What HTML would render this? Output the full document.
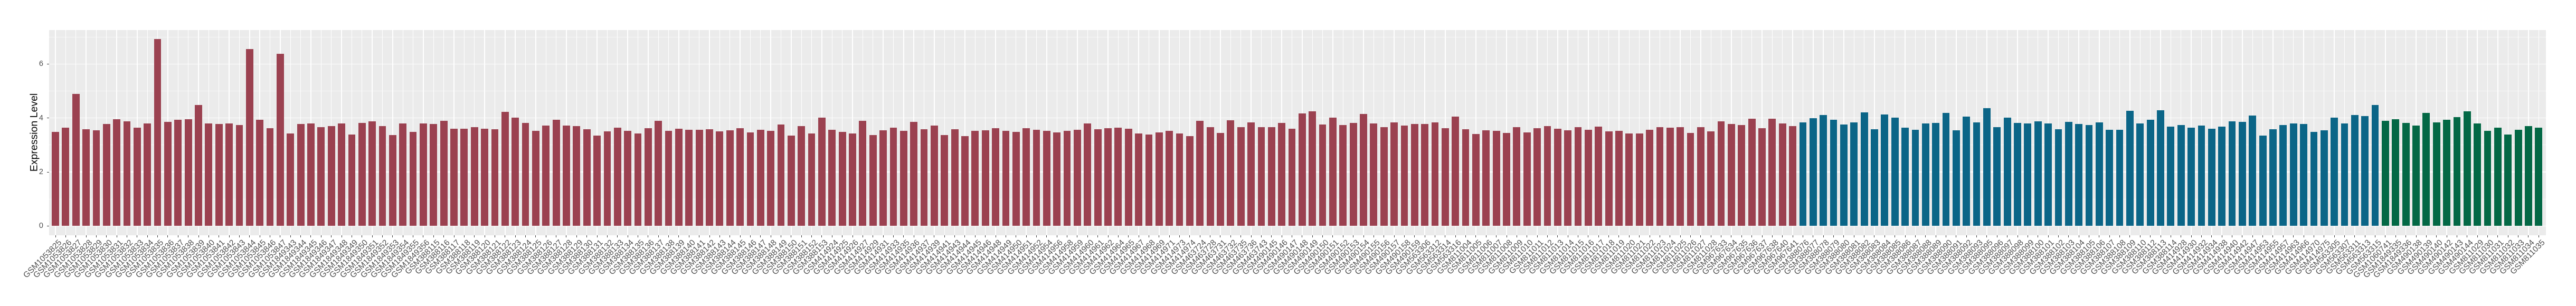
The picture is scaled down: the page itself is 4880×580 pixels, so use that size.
<!DOCTYPE html>
<html><head><meta charset="utf-8"><style>
html,body{margin:0;padding:0;background:#fff;width:4880px;height:580px;overflow:hidden;position:relative;font-family:"Liberation Sans",Arial,sans-serif}
.panel{position:absolute;left:92.7px;top:56.7px;width:4730px;height:389.3px;background:#EBEBEB}
.hl{position:absolute;left:0;width:100%;background:#fff}
.mj{height:1.4px;margin-top:-0.7px}
.mn{height:0.7px;margin-top:-0.35px;background:#F5F5F5}
.row{position:absolute;left:95.315px;top:56.7px;height:389.3px;display:flex}
.row>div{width:19.37px;flex:none;position:relative;height:100%}
.row>div::before{content:"";position:absolute;left:8.985px;width:1.4px;top:0;bottom:0;background:#fff}
.row>div::after{content:"";position:absolute;left:9.2px;width:1px;top:100%;height:4px;background:#333}
.row b{position:absolute;left:2.785px;width:13.8px;bottom:17.7px;height:calc(var(--v) * 51.17px)}
.r b{background:#9B4150}.u b{background:#0B6587}.g b{background:#036845}
.row span{position:absolute;top:calc(100% + 6px);right:6px;white-space:nowrap;transform-origin:100% 0;transform:rotate(-45deg);font-size:15.4px;line-height:1;color:#4D4D4D}
.yt{position:absolute;right:4798px;font-size:14.5px;color:#4D4D4D;line-height:1}
.tk{position:absolute;left:88.7px;width:4px;height:1px;background:#333}
.title{position:absolute;left:65px;top:250.7px;transform:translate(-50%,-50%) rotate(-90deg);font-size:19.5px;white-space:nowrap;color:#000}
</style></head><body>
<div class="panel">
<div class="hl mn" style="top:13.4px"></div>
<div class="hl mn" style="top:115.8px"></div>
<div class="hl mn" style="top:218.1px"></div>
<div class="hl mn" style="top:320.4px"></div>
<div class="hl mj" style="top:64.6px"></div>
<div class="hl mj" style="top:166.9px"></div>
<div class="hl mj" style="top:269.3px"></div>
<div class="hl mj" style="top:371.6px"></div>
</div>
<div class="yt" style="top:114px">6</div>
<div class="yt" style="top:216.6px">4</div>
<div class="yt" style="top:319px">2</div>
<div class="yt" style="top:421.3px">0</div>
<div class="tk" style="top:120.8px"></div>
<div class="tk" style="top:223.1px"></div>
<div class="tk" style="top:325.5px"></div>
<div class="tk" style="top:427.8px"></div>
<div class="title">Expression Level</div>
<div class="row">
<div class=r style=--v:3.49><b></b><span>GSM1053825</span></div>
<div class=r style=--v:3.65><b></b><span>GSM1053826</span></div>
<div class=r style=--v:4.90><b></b><span>GSM1053827</span></div>
<div class=r style=--v:3.59><b></b><span>GSM1053828</span></div>
<div class=r style=--v:3.54><b></b><span>GSM1053829</span></div>
<div class=r style=--v:3.77><b></b><span>GSM1053830</span></div>
<div class=r style=--v:3.96><b></b><span>GSM1053831</span></div>
<div class=r style=--v:3.88><b></b><span>GSM1053832</span></div>
<div class=r style=--v:3.65><b></b><span>GSM1053833</span></div>
<div class=r style=--v:3.80><b></b><span>GSM1053834</span></div>
<div class=r style=--v:6.93><b></b><span>GSM1053835</span></div>
<div class=r style=--v:3.85><b></b><span>GSM1053836</span></div>
<div class=r style=--v:3.94><b></b><span>GSM1053837</span></div>
<div class=r style=--v:3.96><b></b><span>GSM1053838</span></div>
<div class=r style=--v:4.49><b></b><span>GSM1053839</span></div>
<div class=r style=--v:3.79><b></b><span>GSM1053840</span></div>
<div class=r style=--v:3.77><b></b><span>GSM1053841</span></div>
<div class=r style=--v:3.80><b></b><span>GSM1053842</span></div>
<div class=r style=--v:3.73><b></b><span>GSM1053843</span></div>
<div class=r style=--v:6.56><b></b><span>GSM1053844</span></div>
<div class=r style=--v:3.94><b></b><span>GSM1053845</span></div>
<div class=r style=--v:3.63><b></b><span>GSM1053846</span></div>
<div class=r style=--v:6.38><b></b><span>GSM1053847</span></div>
<div class=r style=--v:3.43><b></b><span>GSM1849343</span></div>
<div class=r style=--v:3.77><b></b><span>GSM1849344</span></div>
<div class=r style=--v:3.80><b></b><span>GSM1849345</span></div>
<div class=r style=--v:3.67><b></b><span>GSM1849346</span></div>
<div class=r style=--v:3.70><b></b><span>GSM1849347</span></div>
<div class=r style=--v:3.80><b></b><span>GSM1849348</span></div>
<div class=r style=--v:3.39><b></b><span>GSM1849349</span></div>
<div class=r style=--v:3.82><b></b><span>GSM1849350</span></div>
<div class=r style=--v:3.88><b></b><span>GSM1849351</span></div>
<div class=r style=--v:3.70><b></b><span>GSM1849352</span></div>
<div class=r style=--v:3.37><b></b><span>GSM1849353</span></div>
<div class=r style=--v:3.80><b></b><span>GSM1849354</span></div>
<div class=r style=--v:3.49><b></b><span>GSM1849355</span></div>
<div class=r style=--v:3.80><b></b><span>GSM1849356</span></div>
<div class=r style=--v:3.78><b></b><span>GSM388115</span></div>
<div class=r style=--v:3.90><b></b><span>GSM388116</span></div>
<div class=r style=--v:3.61><b></b><span>GSM388117</span></div>
<div class=r style=--v:3.61><b></b><span>GSM388118</span></div>
<div class=r style=--v:3.67><b></b><span>GSM388119</span></div>
<div class=r style=--v:3.61><b></b><span>GSM388120</span></div>
<div class=r style=--v:3.59><b></b><span>GSM388121</span></div>
<div class=r style=--v:4.23><b></b><span>GSM388122</span></div>
<div class=r style=--v:4.02><b></b><span>GSM388123</span></div>
<div class=r style=--v:3.82><b></b><span>GSM388124</span></div>
<div class=r style=--v:3.53><b></b><span>GSM388125</span></div>
<div class=r style=--v:3.72><b></b><span>GSM388126</span></div>
<div class=r style=--v:3.94><b></b><span>GSM388127</span></div>
<div class=r style=--v:3.72><b></b><span>GSM388128</span></div>
<div class=r style=--v:3.70><b></b><span>GSM388129</span></div>
<div class=r style=--v:3.59><b></b><span>GSM388130</span></div>
<div class=r style=--v:3.35><b></b><span>GSM388131</span></div>
<div class=r style=--v:3.51><b></b><span>GSM388132</span></div>
<div class=r style=--v:3.65><b></b><span>GSM388133</span></div>
<div class=r style=--v:3.53><b></b><span>GSM388134</span></div>
<div class=r style=--v:3.43><b></b><span>GSM388135</span></div>
<div class=r style=--v:3.63><b></b><span>GSM388136</span></div>
<div class=r style=--v:3.90><b></b><span>GSM388137</span></div>
<div class=r style=--v:3.53><b></b><span>GSM388138</span></div>
<div class=r style=--v:3.61><b></b><span>GSM388139</span></div>
<div class=r style=--v:3.57><b></b><span>GSM388140</span></div>
<div class=r style=--v:3.57><b></b><span>GSM388141</span></div>
<div class=r style=--v:3.59><b></b><span>GSM388142</span></div>
<div class=r style=--v:3.51><b></b><span>GSM388143</span></div>
<div class=r style=--v:3.55><b></b><span>GSM388144</span></div>
<div class=r style=--v:3.63><b></b><span>GSM388145</span></div>
<div class=r style=--v:3.47><b></b><span>GSM388146</span></div>
<div class=r style=--v:3.57><b></b><span>GSM388147</span></div>
<div class=r style=--v:3.53><b></b><span>GSM388148</span></div>
<div class=r style=--v:3.76><b></b><span>GSM388149</span></div>
<div class=r style=--v:3.35><b></b><span>GSM388150</span></div>
<div class=r style=--v:3.70><b></b><span>GSM388151</span></div>
<div class=r style=--v:3.43><b></b><span>GSM388152</span></div>
<div class=r style=--v:4.02><b></b><span>GSM388153</span></div>
<div class=r style=--v:3.57><b></b><span>GSM414924</span></div>
<div class=r style=--v:3.49><b></b><span>GSM414925</span></div>
<div class=r style=--v:3.43><b></b><span>GSM414926</span></div>
<div class=r style=--v:3.90><b></b><span>GSM414927</span></div>
<div class=r style=--v:3.37><b></b><span>GSM414929</span></div>
<div class=r style=--v:3.55><b></b><span>GSM414931</span></div>
<div class=r style=--v:3.65><b></b><span>GSM414933</span></div>
<div class=r style=--v:3.53><b></b><span>GSM414935</span></div>
<div class=r style=--v:3.86><b></b><span>GSM414936</span></div>
<div class=r style=--v:3.59><b></b><span>GSM414937</span></div>
<div class=r style=--v:3.72><b></b><span>GSM414939</span></div>
<div class=r style=--v:3.37><b></b><span>GSM414941</span></div>
<div class=r style=--v:3.59><b></b><span>GSM414943</span></div>
<div class=r style=--v:3.33><b></b><span>GSM414944</span></div>
<div class=r style=--v:3.53><b></b><span>GSM414945</span></div>
<div class=r style=--v:3.55><b></b><span>GSM414946</span></div>
<div class=r style=--v:3.63><b></b><span>GSM414948</span></div>
<div class=r style=--v:3.53><b></b><span>GSM414949</span></div>
<div class=r style=--v:3.49><b></b><span>GSM414950</span></div>
<div class=r style=--v:3.63><b></b><span>GSM414951</span></div>
<div class=r style=--v:3.57><b></b><span>GSM414952</span></div>
<div class=r style=--v:3.53><b></b><span>GSM414954</span></div>
<div class=r style=--v:3.47><b></b><span>GSM414956</span></div>
<div class=r style=--v:3.53><b></b><span>GSM414958</span></div>
<div class=r style=--v:3.57><b></b><span>GSM414959</span></div>
<div class=r style=--v:3.80><b></b><span>GSM414960</span></div>
<div class=r style=--v:3.59><b></b><span>GSM414961</span></div>
<div class=r style=--v:3.63><b></b><span>GSM414962</span></div>
<div class=r style=--v:3.65><b></b><span>GSM414964</span></div>
<div class=r style=--v:3.61><b></b><span>GSM414965</span></div>
<div class=r style=--v:3.43><b></b><span>GSM414967</span></div>
<div class=r style=--v:3.39><b></b><span>GSM414968</span></div>
<div class=r style=--v:3.47><b></b><span>GSM414969</span></div>
<div class=r style=--v:3.53><b></b><span>GSM414971</span></div>
<div class=r style=--v:3.43><b></b><span>GSM414973</span></div>
<div class=r style=--v:3.33><b></b><span>GSM414974</span></div>
<div class=r style=--v:3.90><b></b><span>GSM463724</span></div>
<div class=r style=--v:3.67><b></b><span>GSM463728</span></div>
<div class=r style=--v:3.45><b></b><span>GSM463731</span></div>
<div class=r style=--v:3.92><b></b><span>GSM463732</span></div>
<div class=r style=--v:3.67><b></b><span>GSM463735</span></div>
<div class=r style=--v:3.84><b></b><span>GSM463736</span></div>
<div class=r style=--v:3.67><b></b><span>GSM463743</span></div>
<div class=r style=--v:3.67><b></b><span>GSM490145</span></div>
<div class=r style=--v:3.82><b></b><span>GSM490146</span></div>
<div class=r style=--v:3.61><b></b><span>GSM490147</span></div>
<div class=r style=--v:4.17><b></b><span>GSM490148</span></div>
<div class=r style=--v:4.25><b></b><span>GSM490149</span></div>
<div class=r style=--v:3.76><b></b><span>GSM490150</span></div>
<div class=r style=--v:4.02><b></b><span>GSM490151</span></div>
<div class=r style=--v:3.74><b></b><span>GSM490152</span></div>
<div class=r style=--v:3.82><b></b><span>GSM490153</span></div>
<div class=r style=--v:4.15><b></b><span>GSM490154</span></div>
<div class=r style=--v:3.80><b></b><span>GSM490155</span></div>
<div class=r style=--v:3.67><b></b><span>GSM490156</span></div>
<div class=r style=--v:3.84><b></b><span>GSM490157</span></div>
<div class=r style=--v:3.72><b></b><span>GSM490158</span></div>
<div class=r style=--v:3.78><b></b><span>GSM490159</span></div>
<div class=r style=--v:3.78><b></b><span>GSM563306</span></div>
<div class=r style=--v:3.84><b></b><span>GSM563312</span></div>
<div class=r style=--v:3.63><b></b><span>GSM563314</span></div>
<div class=r style=--v:4.06><b></b><span>GSM563316</span></div>
<div class=r style=--v:3.59><b></b><span>GSM811004</span></div>
<div class=r style=--v:3.41><b></b><span>GSM811005</span></div>
<div class=r style=--v:3.55><b></b><span>GSM811006</span></div>
<div class=r style=--v:3.53><b></b><span>GSM811007</span></div>
<div class=r style=--v:3.45><b></b><span>GSM811008</span></div>
<div class=r style=--v:3.67><b></b><span>GSM811009</span></div>
<div class=r style=--v:3.47><b></b><span>GSM811010</span></div>
<div class=r style=--v:3.63><b></b><span>GSM811011</span></div>
<div class=r style=--v:3.70><b></b><span>GSM811012</span></div>
<div class=r style=--v:3.61><b></b><span>GSM811013</span></div>
<div class=r style=--v:3.55><b></b><span>GSM811014</span></div>
<div class=r style=--v:3.67><b></b><span>GSM811015</span></div>
<div class=r style=--v:3.57><b></b><span>GSM811016</span></div>
<div class=r style=--v:3.68><b></b><span>GSM811017</span></div>
<div class=r style=--v:3.51><b></b><span>GSM811018</span></div>
<div class=r style=--v:3.53><b></b><span>GSM811019</span></div>
<div class=r style=--v:3.43><b></b><span>GSM811020</span></div>
<div class=r style=--v:3.43><b></b><span>GSM811021</span></div>
<div class=r style=--v:3.57><b></b><span>GSM811022</span></div>
<div class=r style=--v:3.67><b></b><span>GSM811023</span></div>
<div class=r style=--v:3.65><b></b><span>GSM811024</span></div>
<div class=r style=--v:3.67><b></b><span>GSM811025</span></div>
<div class=r style=--v:3.45><b></b><span>GSM811026</span></div>
<div class=r style=--v:3.67><b></b><span>GSM811027</span></div>
<div class=r style=--v:3.51><b></b><span>GSM811028</span></div>
<div class=r style=--v:3.88><b></b><span>GSM967633</span></div>
<div class=r style=--v:3.78><b></b><span>GSM967634</span></div>
<div class=r style=--v:3.74><b></b><span>GSM967635</span></div>
<div class=r style=--v:3.98><b></b><span>GSM967636</span></div>
<div class=r style=--v:3.63><b></b><span>GSM967637</span></div>
<div class=r style=--v:3.98><b></b><span>GSM967638</span></div>
<div class=r style=--v:3.80><b></b><span>GSM967640</span></div>
<div class=r style=--v:3.70><b></b><span>GSM967641</span></div>
<div class=u style=--v:3.84><b></b><span>GSM388076</span></div>
<div class=u style=--v:4.00><b></b><span>GSM388077</span></div>
<div class=u style=--v:4.11><b></b><span>GSM388078</span></div>
<div class=u style=--v:3.94><b></b><span>GSM388079</span></div>
<div class=u style=--v:3.76><b></b><span>GSM388080</span></div>
<div class=u style=--v:3.84><b></b><span>GSM388081</span></div>
<div class=u style=--v:4.21><b></b><span>GSM388082</span></div>
<div class=u style=--v:3.59><b></b><span>GSM388083</span></div>
<div class=u style=--v:4.13><b></b><span>GSM388084</span></div>
<div class=u style=--v:4.02><b></b><span>GSM388085</span></div>
<div class=u style=--v:3.65><b></b><span>GSM388086</span></div>
<div class=u style=--v:3.57><b></b><span>GSM388087</span></div>
<div class=u style=--v:3.80><b></b><span>GSM388088</span></div>
<div class=u style=--v:3.82><b></b><span>GSM388089</span></div>
<div class=u style=--v:4.19><b></b><span>GSM388090</span></div>
<div class=u style=--v:3.55><b></b><span>GSM388091</span></div>
<div class=u style=--v:4.06><b></b><span>GSM388092</span></div>
<div class=u style=--v:3.84><b></b><span>GSM388093</span></div>
<div class=u style=--v:4.37><b></b><span>GSM388095</span></div>
<div class=u style=--v:3.67><b></b><span>GSM388096</span></div>
<div class=u style=--v:4.02><b></b><span>GSM388097</span></div>
<div class=u style=--v:3.82><b></b><span>GSM388098</span></div>
<div class=u style=--v:3.80><b></b><span>GSM388099</span></div>
<div class=u style=--v:3.88><b></b><span>GSM388100</span></div>
<div class=u style=--v:3.80><b></b><span>GSM388101</span></div>
<div class=u style=--v:3.59><b></b><span>GSM388102</span></div>
<div class=u style=--v:3.86><b></b><span>GSM388103</span></div>
<div class=u style=--v:3.78><b></b><span>GSM388104</span></div>
<div class=u style=--v:3.74><b></b><span>GSM388105</span></div>
<div class=u style=--v:3.84><b></b><span>GSM388106</span></div>
<div class=u style=--v:3.57><b></b><span>GSM388107</span></div>
<div class=u style=--v:3.57><b></b><span>GSM388108</span></div>
<div class=u style=--v:4.27><b></b><span>GSM388109</span></div>
<div class=u style=--v:3.80><b></b><span>GSM388110</span></div>
<div class=u style=--v:3.94><b></b><span>GSM388112</span></div>
<div class=u style=--v:4.29><b></b><span>GSM388113</span></div>
<div class=u style=--v:3.68><b></b><span>GSM388114</span></div>
<div class=u style=--v:3.74><b></b><span>GSM414928</span></div>
<div class=u style=--v:3.65><b></b><span>GSM414930</span></div>
<div class=u style=--v:3.72><b></b><span>GSM414932</span></div>
<div class=u style=--v:3.61><b></b><span>GSM414934</span></div>
<div class=u style=--v:3.68><b></b><span>GSM414938</span></div>
<div class=u style=--v:3.88><b></b><span>GSM414940</span></div>
<div class=u style=--v:3.86><b></b><span>GSM414942</span></div>
<div class=u style=--v:4.10><b></b><span>GSM414947</span></div>
<div class=u style=--v:3.35><b></b><span>GSM414953</span></div>
<div class=u style=--v:3.59><b></b><span>GSM414955</span></div>
<div class=u style=--v:3.74><b></b><span>GSM414957</span></div>
<div class=u style=--v:3.80><b></b><span>GSM414963</span></div>
<div class=u style=--v:3.77><b></b><span>GSM414966</span></div>
<div class=u style=--v:3.48><b></b><span>GSM414970</span></div>
<div class=u style=--v:3.54><b></b><span>GSM414975</span></div>
<div class=u style=--v:4.01><b></b><span>GSM563305</span></div>
<div class=u style=--v:3.80><b></b><span>GSM563307</span></div>
<div class=u style=--v:4.11><b></b><span>GSM563311</span></div>
<div class=u style=--v:4.07><b></b><span>GSM563313</span></div>
<div class=u style=--v:4.48><b></b><span>GSM563315</span></div>
<div class=g style=--v:3.89><b></b><span>GSM1060741</span></div>
<div class=g style=--v:3.95><b></b><span>GSM1849335</span></div>
<div class=g style=--v:3.81><b></b><span>GSM1849336</span></div>
<div class=g style=--v:3.72><b></b><span>GSM490138</span></div>
<div class=g style=--v:4.19><b></b><span>GSM490139</span></div>
<div class=g style=--v:3.83><b></b><span>GSM490140</span></div>
<div class=g style=--v:3.93><b></b><span>GSM490142</span></div>
<div class=g style=--v:4.03><b></b><span>GSM490143</span></div>
<div class=g style=--v:4.24><b></b><span>GSM490144</span></div>
<div class=g style=--v:3.80><b></b><span>GSM811029</span></div>
<div class=g style=--v:3.52><b></b><span>GSM811030</span></div>
<div class=g style=--v:3.64><b></b><span>GSM811031</span></div>
<div class=g style=--v:3.38><b></b><span>GSM811032</span></div>
<div class=g style=--v:3.56><b></b><span>GSM811033</span></div>
<div class=g style=--v:3.69><b></b><span>GSM811034</span></div>
<div class=g style=--v:3.64><b></b><span>GSM811035</span></div>
</div>
</body></html>
